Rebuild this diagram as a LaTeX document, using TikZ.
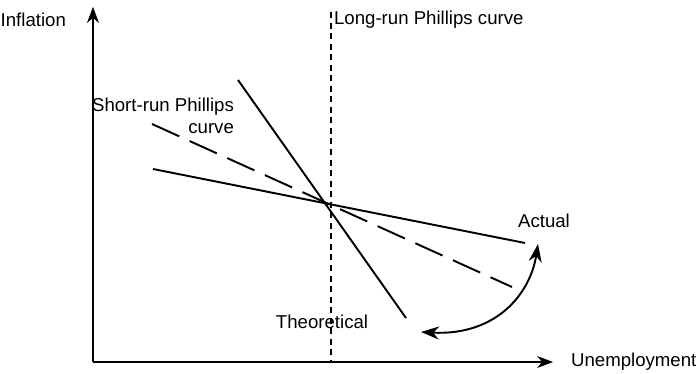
\documentclass[tikz,border=0pt]{standalone}
\usepackage{fontspec}
\setmainfont{Liberation Sans}
\usetikzlibrary{positioning,arrows.meta,calc}

\begin{document}
\begin{tikzpicture}[x=0.02cm,y=-0.02cm,>={Stealth[length=3.2mm,width=2.4mm]},
  lbl/.style={font=\fontsize{10.6}{12.5}\selectfont,inner sep=1pt},
  curveline/.style={line width=1.1pt},
  axis/.style={line width=0.6pt,->}]
\useasboundingbox (0,0) rectangle (696,374);
% axes
\coordinate (O) at (93,362);
\coordinate (ytop) at (93,7);
\coordinate (xend) at (553,362);
\draw[axis] (O) -- (ytop);
\draw[axis] (O) -- (xend);
\node[lbl,anchor=east] (infl) at (68,20) {Inflation};
\node[lbl,anchor=west] (unemp) at (569,362) {Unemployment};
% long-run curve
\coordinate (lrtop) at (331,12);
\coordinate (lrbot) at (331,362);
\draw[line width=0.6pt,dash pattern=on 3.4pt off 2.6pt] (lrtop) -- (lrbot);
\node[lbl,anchor=west] (lrpc) at (332,20) {Long-run Phillips curve};
% short-run curves
\coordinate (th0) at (238,80);
\coordinate (th1) at (406,318);
\coordinate (ac0) at (153,169);
\coordinate (ac1) at (525,243);
\coordinate (md0) at (152,124);
\coordinate (md1) at (512,287);
\draw[curveline] (th0) -- (th1);
\draw[curveline] (ac0) -- (ac1);
\draw[curveline,dash pattern=on 17pt off 6.5pt] (md0) -- (md1);
\node[lbl,align=right,anchor=east] (srpc) at (236,116) {Short-run Phillips\\curve};
\node[lbl] (actual) at (544,221) {Actual};
\node[lbl] (theo) at (322,322) {Theoretical};
% rotation arrow
\coordinate (arL) at (421,332);
\coordinate (arR) at (538,244);
\draw[curveline,{Stealth[length=3.6mm,width=2.6mm]}-{Stealth[length=3.6mm,width=2.6mm]}]
  (arL) .. controls (495,336) and (530,295) .. (arR);
\end{tikzpicture}
\end{document}
